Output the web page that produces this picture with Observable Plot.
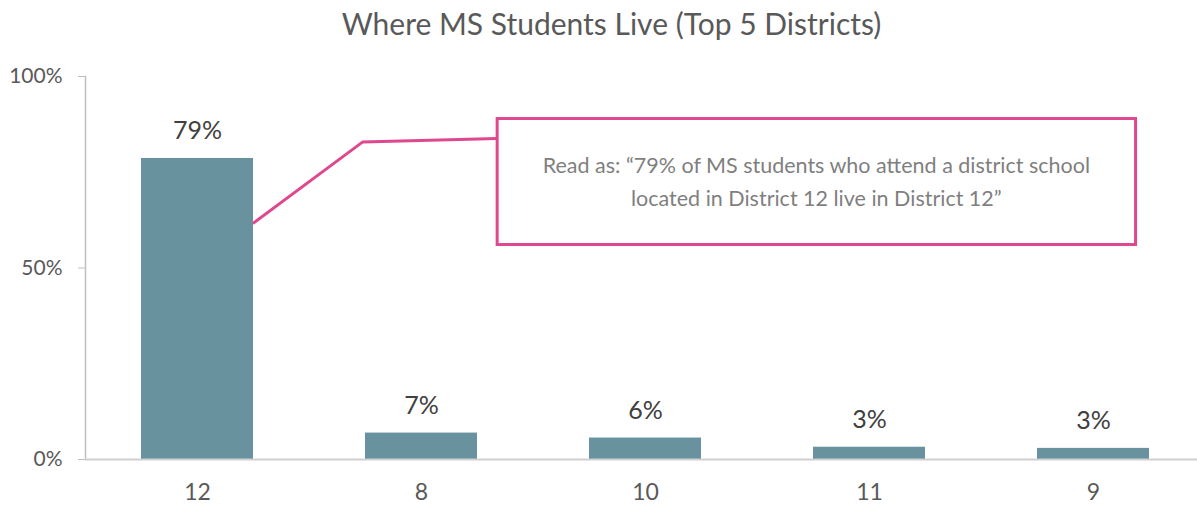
<!DOCTYPE html>
<html>
<head>
<meta charset="utf-8">
<script src="https://cdn.jsdelivr.net/npm/d3@7"></script>
<script src="https://cdn.jsdelivr.net/npm/@observablehq/plot@0.6"></script>
<style>
  html, body { margin: 0; padding: 0; background: #ffffff; }
  #chart svg { display: block; }
</style>
</head>
<body>
<div id="chart"></div>
<script>
// ---- data ----
const districts = ["12", "8", "10", "11", "9"];
const shares = [0.786, 0.069, 0.056, 0.032, 0.029];
const shareLabels = ["79%", "7%", "6%", "3%", "3%"];
const yTicks = [0, 0.5, 1];
const yTickLabels = ["0%", "50%", "100%"];
const titleText = "Where MS Students Live (Top 5 Districts)";
const noteLines = [
  "Read as: \u201c79% of MS students who attend a district school",
  "located in District 12 live in District 12\u201d"
];
// annotation geometry in (category index, share) units
const leaderIdx = [0.25, 0.74, 1.34];
const leaderVal = [0.615, 0.828, 0.837];
const boxIdx = [1.34, 4.19];
const boxVal = [0.560, 0.889];

const data = districts.map((d, i) => ({district: d, share: shares[i], label: shareLabels[i]}));

const FONT = "Lato, 'Open Sans', sans-serif";

function annotation(index, scales) {
  const x = scales.x, y = scales.y;
  const bw = x.bandwidth();
  const step = x.step();
  const px = i => x(districts[0]) + bw / 2 + i * step;
  const g = d3.create("svg:g");
  const pts = leaderIdx.map((i, k) => [px(i), y(leaderVal[k])]);
  g.append("path")
    .attr("d", d3.line()(pts))
    .attr("fill", "none")
    .attr("stroke", "#e0488d")
    .attr("stroke-width", 3);
  const bx0 = px(boxIdx[0]), bx1 = px(boxIdx[1]);
  const by0 = y(boxVal[1]), by1 = y(boxVal[0]);
  g.append("rect")
    .attr("x", bx0).attr("y", by0)
    .attr("width", bx1 - bx0).attr("height", by1 - by0)
    .attr("fill", "#ffffff")
    .attr("stroke", "#e0488d")
    .attr("stroke-width", 3);
  const cx = (bx0 + bx1) / 2, cy = (by0 + by1) / 2;
  const lh = 33;
  noteLines.forEach((t, k) => {
    g.append("text")
      .attr("x", cx)
      .attr("y", cy + (k - (noteLines.length - 1) / 2) * lh)
      .attr("dy", "0.35em")
      .attr("text-anchor", "middle")
      .attr("font-family", FONT)
      .attr("font-size", 21.5)
      .attr("fill", "#7f7f7f")
      .text(t);
  });
  return g.node();
}

const chart = Plot.plot({
  width: 1197,
  height: 506,
  marginTop: 76,
  marginBottom: 47,
  marginLeft: 85,
  marginRight: 0,
  style: {fontFamily: FONT, background: "#ffffff"},
  x: {domain: districts, range: [85, 1205], paddingInner: 0.5, paddingOuter: 0.25, axis: null, label: null},
  y: {domain: [0, 1], axis: null, label: null},
  marks: [
    Plot.axisY(yTicks, {
      tickSize: 7, tickPadding: 16, stroke: "#bfbfbf", fill: "#595959", label: null,
      fontSize: 21, tickFormat: (d, i) => yTickLabels[yTicks.indexOf(d)]
    }),
    Plot.frame({anchor: "left", stroke: "#bfbfbf", strokeWidth: 1.5}),
    Plot.barY(data, {x: "district", y: "share", fill: "#68929e"}),
    Plot.ruleY([0], {stroke: "#d0d0d0", strokeWidth: 2}),
    Plot.axisX(districts, {tickSize: 0, tickPadding: 24, fill: "#595959", fontSize: 23, label: null}),
    Plot.text(data, {x: "district", y: "share", text: "label", dy: -27, fontSize: 25, fill: "#404040"}),
    Plot.text([titleText], {frameAnchor: "top", dy: -63, dx: -30, fontSize: 30, fill: "#595959"}),
    annotation
  ]
});
document.getElementById("chart").appendChild(chart);
</script>
</body>
</html>
